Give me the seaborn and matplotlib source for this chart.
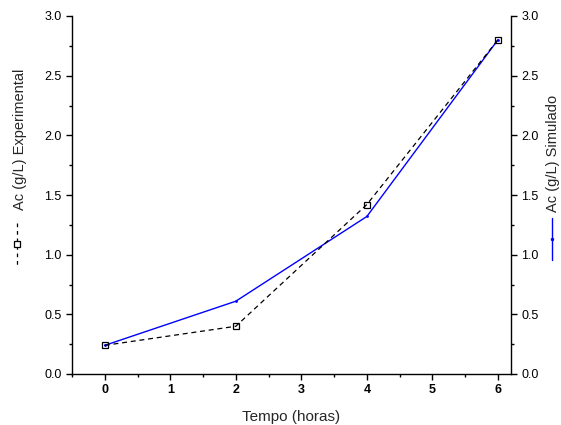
import matplotlib
matplotlib.use("Agg")
import matplotlib.pyplot as plt
import seaborn as sns
import pandas as pd
from matplotlib.ticker import MultipleLocator
from matplotlib.lines import Line2D

tempo = [0, 2, 4, 6]
ac_experimental = [0.24, 0.40, 1.42, 2.80]
ac_simulado = [0.24, 0.61, 1.32, 2.80]
x_ticks = [0, 1, 2, 3, 4, 5, 6]
y_ticks = [0.0, 0.5, 1.0, 1.5, 2.0, 2.5, 3.0]

sns.set_style("ticks")
plt.rcParams['font.family'] = ['Liberation Sans', 'DejaVu Sans']

df_exp = pd.DataFrame({"t": tempo, "ac": ac_experimental})
df_sim = pd.DataFrame({"t": tempo, "ac": ac_simulado})

W, H = 561, 425
fig = plt.figure(figsize=(W/100, H/100), dpi=100)
ax = fig.add_axes([72/W, 1-374/H, (511-72)/W, (374-16)/H])

sns.lineplot(data=df_sim, x="t", y="ac", ax=ax, color="#0000FF", lw=1.0,
             marker="o", markersize=2, markeredgewidth=0)
sns.lineplot(data=df_exp, x="t", y="ac", ax=ax, color="black", lw=0.9,
             linestyle=(0, (4, 3)), marker="s", markersize=4.3,
             markerfacecolor="none", markeredgecolor="black", markeredgewidth=0.9)

ax.set_xlim(-0.5, 6.2)
ax.set_ylim(0, 3.0)
ax.set_xticks(x_ticks)
ax.set_xticklabels([str(v) for v in x_ticks], fontweight="bold", fontsize=9)
ax.set_yticks(y_ticks)
ax.set_yticklabels([f"{v:.1f}" for v in y_ticks], fontsize=9)
ax.xaxis.set_minor_locator(MultipleLocator(0.5))
ax.yaxis.set_minor_locator(MultipleLocator(0.25))
ax.tick_params(which="major", direction="out", length=4, width=1, colors="black")
ax.tick_params(which="minor", direction="out", length=2.5, width=1, colors="black")
ax.set_xlabel("Tempo (horas)", fontsize=11, labelpad=10)
ax.set_ylabel("")
for s in ["left", "bottom"]:
    ax.spines[s].set_linewidth(1.0)
    ax.spines[s].set_color("black")
ax.spines["top"].set_visible(False)
ax.spines["right"].set_visible(False)

ax2 = ax.twinx()
ax2.set_ylim(0, 3.0)
ax2.set_yticks(y_ticks)
ax2.set_yticklabels([f"{v:.1f}" for v in y_ticks], fontsize=9)
ax2.yaxis.set_minor_locator(MultipleLocator(0.25))
ax2.tick_params(which="major", direction="out", length=4, width=1, colors="black")
ax2.tick_params(which="minor", direction="out", length=2.5, width=1, colors="black")
for s in ["left", "bottom", "top"]:
    ax2.spines[s].set_visible(False)
ax2.spines["right"].set_linewidth(1.0)
ax2.spines["right"].set_color("black")

# axis titles with legend glyphs
fig.text(20/W, 1-139/H, "Ac (g/L) Experimental", rotation=90,
         ha="center", va="center", fontsize=10.5)
fig.text(553/W, 1-153/H, "Ac (g/L) Simulado", rotation=90,
         ha="center", va="center", fontsize=10.5)

leg_exp = Line2D([17/W, 17/W, 17/W], [1-223/H, 1-244/H, 1-265/H],
                 transform=fig.transFigure, color="black", lw=0.9,
                 linestyle=(0, (3, 3)), marker="s", markevery=[1],
                 markersize=4.3, markerfacecolor="white",
                 markeredgecolor="black", markeredgewidth=0.9)
fig.add_artist(leg_exp)
leg_sim = Line2D([552/W, 552/W, 552/W], [1-218/H, 1-239/H, 1-260/H],
                 transform=fig.transFigure, color="#0000FF", lw=1.0,
                 marker="o", markevery=[1], markersize=2.5, markeredgewidth=0)
fig.add_artist(leg_sim)

fig.savefig("out.png", dpi=100)
